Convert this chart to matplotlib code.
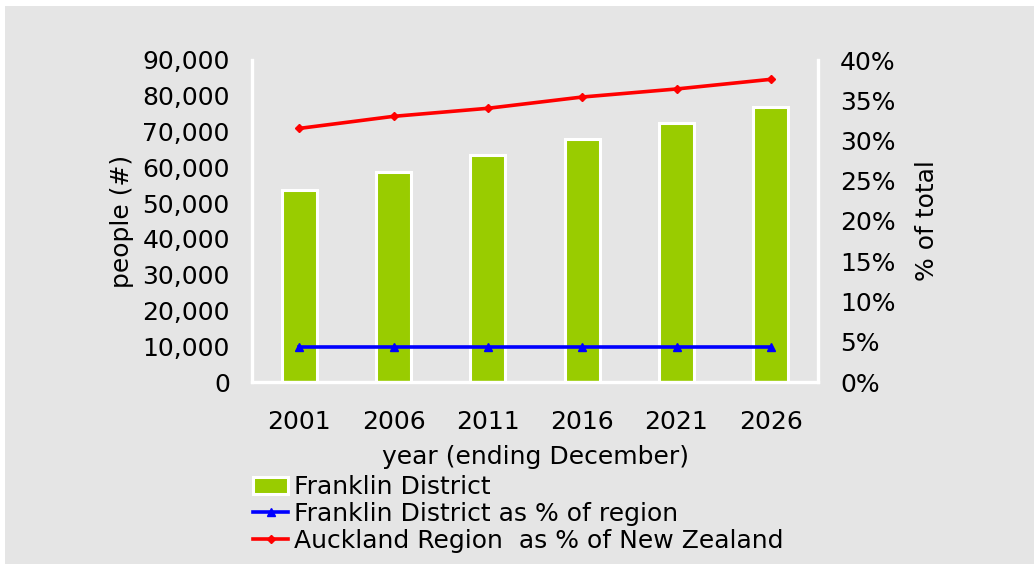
import numpy as np
import matplotlib
matplotlib.use("Agg")
import matplotlib.pyplot as plt
from matplotlib.ticker import FuncFormatter, PercentFormatter
from matplotlib.patches import Rectangle, Patch
from matplotlib.lines import Line2D

# %% Data
years = ["2001", "2006", "2011", "2016", "2021", "2026"]
franklin_people = [53700, 58800, 63400, 67800, 72500, 77000]
franklin_pct_region = [4.4, 4.4, 4.4, 4.4, 4.4, 4.4]
auckland_pct_nz = [31.5, 33.0, 34.0, 35.4, 36.4, 37.6]

GREEN = "#99cc00"
BG = "#e5e5e5"
FS = 18

fig = plt.figure(figsize=(10.34, 5.64), dpi=100, facecolor=BG)
# white strip at top and left edge
fig.patches.append(Rectangle((0, 1 - 6 / 564), 1, 6 / 564, transform=fig.transFigure,
                             facecolor="white", edgecolor="none", zorder=0))
fig.patches.append(Rectangle((0, 0), 5 / 1034, 1, transform=fig.transFigure,
                             facecolor="white", edgecolor="none", zorder=0))

ax = fig.add_axes([252 / 1034, 182 / 564, 566 / 1034, 322 / 564])
ax.set_facecolor("none")
x = np.arange(len(years))

ax.bar(x, franklin_people, width=0.37, color=GREEN, edgecolor="white", linewidth=2.2, zorder=2)
ax.set_xlim(-0.5, len(years) - 0.5)
ax.set_ylim(0, 90000)
ax.set_yticks(np.arange(0, 90001, 10000))
ax.yaxis.set_major_formatter(FuncFormatter(lambda v, p: f"{int(v):,}"))
ax.set_xticks(x)
ax.set_xticklabels(years)
ax.tick_params(axis="both", length=0, labelsize=FS)
ax.tick_params(axis="y", pad=16)
ax.tick_params(axis="x", pad=20)
ax.set_ylabel("people (#)", fontsize=FS, labelpad=6)
ax.set_xlabel("year (ending December)", fontsize=FS, labelpad=8)
for s in ["top", "right"]:
    ax.spines[s].set_visible(False)
for s in ["left", "bottom"]:
    ax.spines[s].set_color("white")
    ax.spines[s].set_linewidth(2.4)

ax2 = ax.twinx()
ax2.set_facecolor("none")
ax2.plot(x, franklin_pct_region, color="blue", lw=2.6, marker="^", ms=6, zorder=3)
ax2.plot(x, auckland_pct_nz, color="red", lw=2.6, marker="D", ms=4, zorder=3)
ax2.set_ylim(0, 40)
ax2.set_yticks(np.arange(0, 41, 5))
ax2.yaxis.set_major_formatter(PercentFormatter(decimals=0))
ax2.tick_params(axis="y", length=0, labelsize=FS, pad=16)
ax2.set_ylabel("% of total", fontsize=FS, labelpad=14)
for s in ["top", "left", "bottom"]:
    ax2.spines[s].set_visible(False)
ax2.spines["right"].set_color("white")
ax2.spines["right"].set_linewidth(2.4)

handles = [
    Patch(facecolor=GREEN, edgecolor="white", linewidth=2.2),
    Line2D([], [], color="blue", lw=2.6, marker="^", ms=6),
    Line2D([], [], color="red", lw=2.6, marker="D", ms=4),
]
labels = ["Franklin District", "Franklin District as % of region",
          "Auckland Region  as % of New Zealand"]
fig.legend(handles, labels, loc="upper left", bbox_to_anchor=(253 / 1034, 1 - 475 / 564),
           frameon=False, fontsize=FS, handlelength=1.4, handletextpad=0.25,
           labelspacing=0.12, borderaxespad=0, borderpad=0)

fig.savefig("out.png", dpi=100, facecolor=BG)
